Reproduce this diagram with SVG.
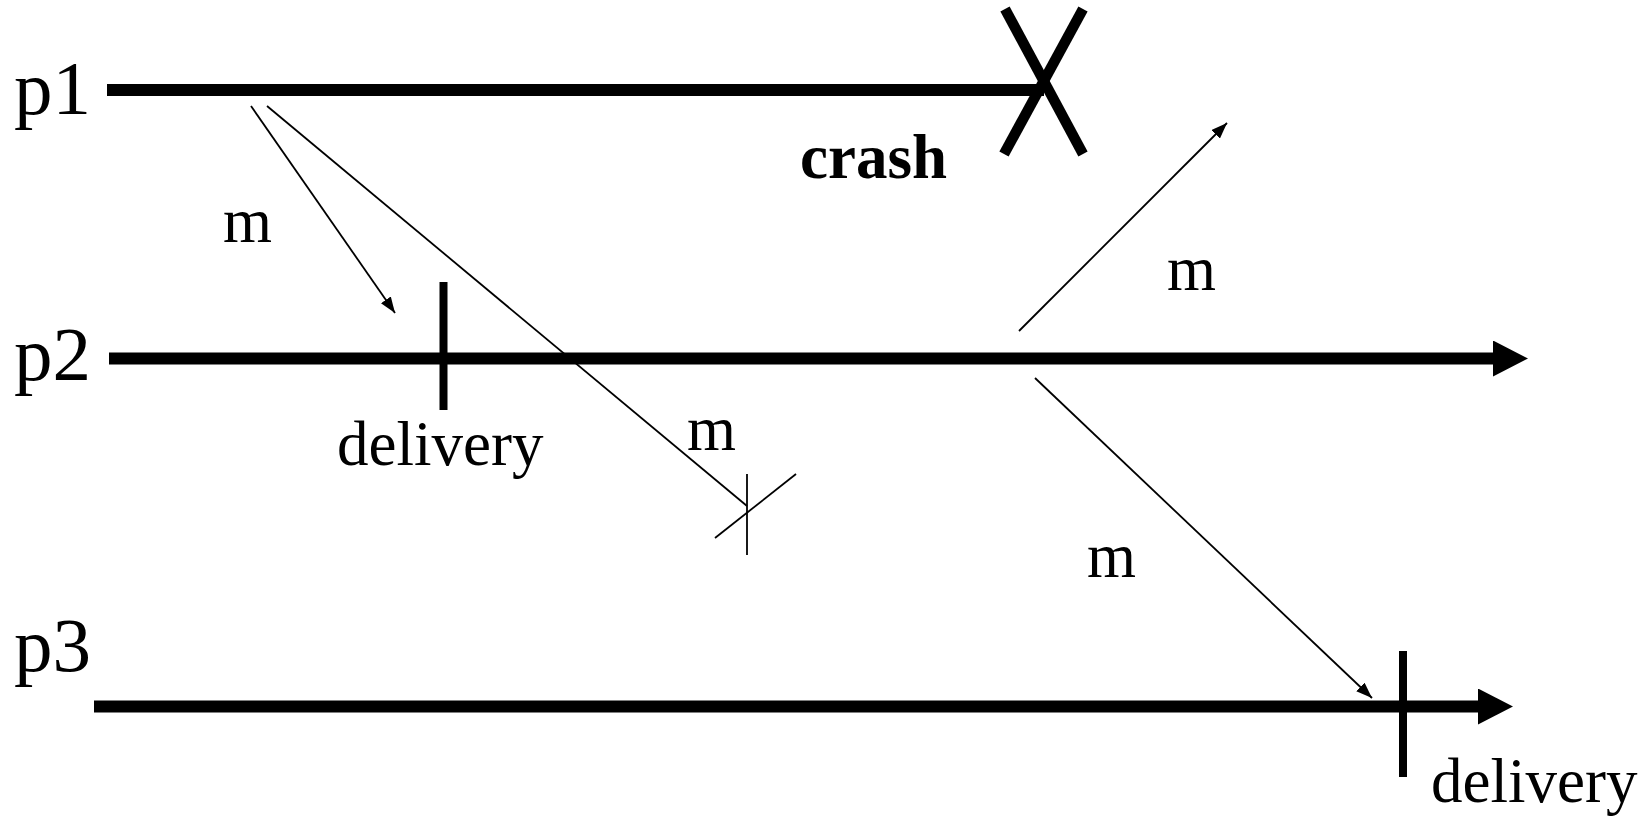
<svg xmlns="http://www.w3.org/2000/svg" width="1647" height="816" viewBox="0 0 1647 816">
<style>
.lbl{font-family:"Liberation Serif","Times New Roman",serif;fill:#000}
.proc{font-size:77px}
.txt{font-size:63px}
.bold{font-size:63px;font-weight:bold}
.life{stroke:#000;stroke-width:12;fill:none}
.tick{stroke:#000;stroke-width:8}
.msg{stroke:#000;stroke-width:1.8;fill:none}
</style>
<defs>
<marker id="thin" markerUnits="userSpaceOnUse" markerWidth="16" markerHeight="12" refX="16" refY="6" orient="auto">
<path d="M0,0 L16,6 L0,12 z" fill="#000"/>
</marker>
<marker id="thick" markerUnits="userSpaceOnUse" markerWidth="36" markerHeight="36" refX="2" refY="18" orient="auto">
<path d="M0,0 L35,18 L0,36 z" fill="#000"/>
</marker>
</defs>
<rect width="1647" height="816" fill="#fff"/>
<g id="p1">
<text class="lbl proc" x="14" y="114">p1</text>
<line class="life" x1="107" y1="90" x2="1044" y2="90"/>
</g>
<g id="crash">
<line x1="1005" y1="9" x2="1083" y2="154" stroke="#000" stroke-width="10.5"/>
<line x1="1083" y1="9" x2="1004" y2="154" stroke="#000" stroke-width="10.5"/>
<text class="lbl bold" x="800" y="178">crash</text>
</g>
<g id="p2">
<text class="lbl proc" x="14" y="380">p2</text>
<line class="life" x1="109" y1="358.5" x2="1495" y2="358.5" marker-end="url(#thick)"/>
</g>
<g id="p2-delivery">
<line class="tick" x1="443.5" y1="282" x2="443.5" y2="410"/>
<text class="lbl txt" x="337" y="465">delivery</text>
</g>
<g id="p3">
<text class="lbl proc" x="14" y="671">p3</text>
<line class="life" x1="94" y1="706.5" x2="1480" y2="706.5" marker-end="url(#thick)"/>
</g>
<g id="p3-delivery">
<line class="tick" x1="1403" y1="651" x2="1403" y2="777"/>
<text class="lbl txt" x="1431" y="802">delivery</text>
</g>
<g id="lost">
<line class="msg" x1="747" y1="474" x2="747" y2="555"/>
<line class="msg" x1="715" y1="538" x2="796" y2="474"/>
</g>
<g id="connectors">
<line class="msg" x1="251" y1="106" x2="395" y2="313" marker-end="url(#thin)"/>
<line class="msg" x1="267" y1="106" x2="747" y2="506"/>
<line class="msg" x1="1019" y1="331" x2="1227" y2="123" marker-end="url(#thin)"/>
<line class="msg" x1="1035" y1="378" x2="1372" y2="698" marker-end="url(#thin)"/>
</g>
<g id="labels">
<text class="lbl txt" x="223" y="242">m</text>
<text class="lbl txt" x="687" y="450">m</text>
<text class="lbl txt" x="1167" y="290">m</text>
<text class="lbl txt" x="1087" y="577">m</text>
</g>
</svg>
